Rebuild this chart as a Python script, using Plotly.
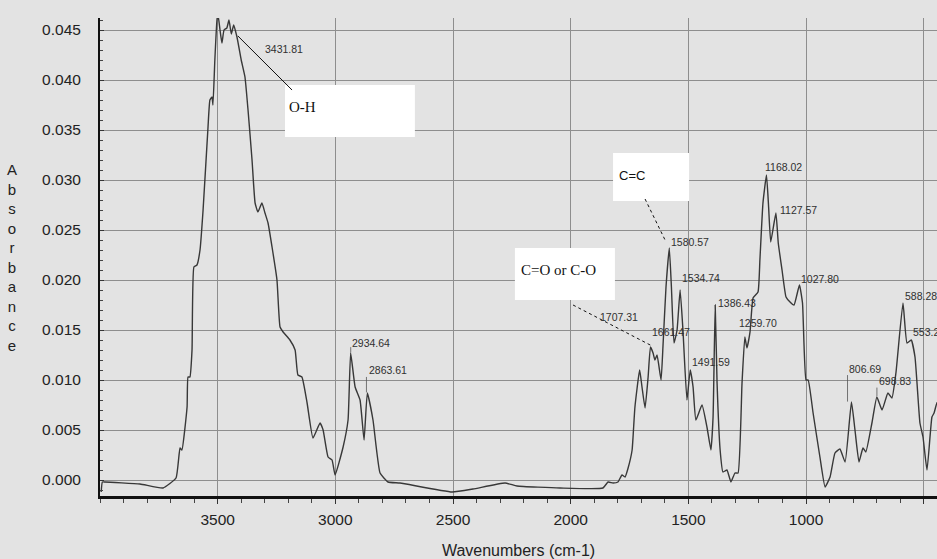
import numpy as np
import plotly.graph_objects as go

# ---------------- data ----------------
wavenumber = [3995, 3990, 3979, 3830, 3732, 3677, 3660, 3652, 3630, 3626, 3618, 3609, 3601, 3588,
              3575, 3562, 3541, 3533, 3524, 3520, 3512, 3503, 3499, 3490, 3482, 3473, 3461, 3452,
              3442, 3432, 3418, 3400, 3384, 3371, 3354, 3341, 3329, 3312, 3299, 3286, 3269, 3248,
              3235, 3222, 3193, 3171, 3159, 3142, 3120, 3095, 3065, 3052, 3031, 3014, 3001, 2967,
              2946, 2935, 2916, 2895, 2878, 2864, 2840, 2810, 2776, 2725, 2504, 2415, 2279, 2228,
              2045, 1863, 1841, 1820, 1799, 1782, 1769, 1756, 1739, 1735, 1727, 1707, 1697, 1684,
              1671, 1661, 1650, 1642, 1633, 1616, 1608, 1595, 1581, 1572, 1561, 1548, 1535, 1523,
              1506, 1492, 1480, 1468, 1442, 1421, 1404, 1395, 1386, 1378, 1365, 1353, 1336, 1319,
              1302, 1289, 1272, 1260, 1251, 1238, 1225, 1204, 1196, 1183, 1168, 1159, 1150, 1128,
              1118, 1102, 1085, 1068, 1051, 1028, 1015, 1000, 991, 970, 941, 919, 898, 877, 856,
              834, 807, 792, 775, 758, 746, 720, 699, 677, 652, 635, 618, 588, 571, 553, 537, 516,
              503, 486, 465, 456, 444, 430]
absorbance = [-0.0012, -0.0002, -0.0002, -0.0004, -0.0008, 0.0002, 0.0032, 0.0030, 0.0073, 0.0103,
              0.0103, 0.0130, 0.0213, 0.0215, 0.0230, 0.0270, 0.0353, 0.0380, 0.0383, 0.0375,
              0.0420, 0.0460, 0.0466, 0.0450, 0.0437, 0.0450, 0.0452, 0.0460, 0.0446, 0.0455,
              0.0443, 0.0420, 0.0403, 0.0370, 0.0320, 0.0277, 0.0268, 0.0277, 0.0267, 0.0257,
              0.0233, 0.0200, 0.0153, 0.0148, 0.0140, 0.0130, 0.0105, 0.0103, 0.0077, 0.0042,
              0.0057, 0.0050, 0.0023, 0.0020, 0.0005, 0.0033, 0.0060, 0.0127, 0.0093, 0.0080,
              0.0040, 0.0087, 0.0060, 0.0007, -0.0002, -0.0003, -0.0012, -0.0009, -0.0003, -0.0006,
              -0.0008, -0.0008, -0.0002, -0.0003, -0.0002, 0.0005, 0.0003, 0.0012, 0.0030, 0.0043,
              0.0073, 0.0110, 0.0093, 0.0072, 0.0103, 0.0133, 0.0127, 0.0120, 0.0125, 0.0100,
              0.0133, 0.0193, 0.0232, 0.0193, 0.0137, 0.0150, 0.0190, 0.0150, 0.0080, 0.0110,
              0.0093, 0.0060, 0.0075, 0.0053, 0.0030, 0.0063, 0.0175, 0.0097, 0.0030, 0.0008,
              0.0010, -0.0002, 0.0007, 0.0007, 0.0097, 0.0143, 0.0132, 0.0148, 0.0182, 0.0188,
              0.0220, 0.0277, 0.0305, 0.0273, 0.0238, 0.0267, 0.0237, 0.0210, 0.0183, 0.0178,
              0.0175, 0.0195, 0.0177, 0.0100, 0.0100, 0.0067, 0.0023, -0.0007, 0.0003, 0.0027,
              0.0031, 0.0018, 0.0078, 0.0050, 0.0018, 0.0032, 0.0028, 0.0057, 0.0083, 0.0070,
              0.0087, 0.0082, 0.0107, 0.0177, 0.0137, 0.0140, 0.0123, 0.0057, 0.0043, 0.0010,
              0.0063, 0.0067, 0.0077, 0.0080]

peak_wavenumbers = [3431.81, 2934.64, 2863.61, 1707.31, 1661.47, 1580.57, 1534.74, 1491.59,
                    1386.43, 1259.70, 1168.02, 1127.57, 1027.80, 806.69, 698.83, 588.28, 553.27]
peak_labels = ["3431.81", "2934.64", "2863.61", "1707.31", "1661.47", "1580.57", "1534.74",
               "1491.59", "1386.43", "1259.70", "1168.02", "1127.57", "1027.80", "806.69",
               "698.83", "588.28", "553.27"]

x_tick_values = [3500, 3000, 2500, 2000, 1500, 1000, 500]
x_tick_labels = ["3500", "3000", "2500", "2000", "1500", "1000", ""]

# ---------------- styling ----------------
BG = "#e3e3e3"
GRID = "#8e8e8e"
LINE = "#383838"

# (xshift px, yshift px, xanchor) for each peak label
label_offsets = [(29, -24, "left"), (-1, 11, "left"), (0, 23, "left"), (0, 54, "right"),
                 (0, 16, "left"), (0, 8, "left"), (0, 13, "left"), (0, 9, "left"),
                 (1, 7, "left"), (-8, 14, "left"), (-3, 8, "left"), (2, 4, "left"),
                 (0, 6, "left"), (-5, 34, "left"), (0, 16, "left"), (0, 8, "left"),
                 (0, 8, "left")]
# leader lines: label index -> (xshift, length px)
leaders = {1: (0, 8), 2: (-1, 18), 13: (-4, 29), 14: (0, 11)}

fig = go.Figure()
fig.add_trace(go.Scatter(x=wavenumber, y=absorbance, mode="lines",
                         line=dict(color=LINE, width=1.4, shape="spline", smoothing=0.4),
                         hoverinfo="skip"))

xs_sorted = np.array(wavenumber[::-1], dtype=float)
ys_sorted = np.array(absorbance[::-1], dtype=float)

annotations = []
for i, (wn, lab) in enumerate(zip(peak_wavenumbers, peak_labels)):
    v = float(np.interp(wn, xs_sorted, ys_sorted))
    dx, dy, xa = label_offsets[i]
    annotations.append(dict(x=wn, y=v, xref="x", yref="y", text=lab, showarrow=False,
                            xanchor=xa, yanchor="middle", xshift=dx, yshift=dy,
                            font=dict(family="Arial, Liberation Sans", size=10.5, color="#303030")))
    if i in leaders:
        lx, ll = leaders[i]
        annotations.append(dict(x=wn, y=v, xref="x", yref="y", text="", showarrow=True,
                                arrowhead=0, arrowwidth=0.8, arrowcolor="#555555",
                                ax=0, ay=-ll, xshift=lx, standoff=1))

# boxed group labels
shapes = []
boxes = [
    (3214, 2662, 0.0395, 0.0343),   # O-H
    (1820, 1497, 0.0327, 0.0279),   # C=C
    (2237, 1812, 0.0232, 0.0180),   # C=O or C-O
]
for x0, x1, y0, y1 in boxes:
    shapes.append(dict(type="rect", xref="x", yref="y", x0=x0, x1=x1, y0=y0, y1=y1,
                       fillcolor="white", line=dict(width=0), layer="above"))
# pointer lines
shapes.append(dict(type="line", xref="x", yref="y", x0=3414, y0=0.0444, x1=3184, y1=0.0390,
                   line=dict(color="#111111", width=1), layer="above"))
shapes.append(dict(type="line", xref="x", yref="y", x0=1684, y0=0.0281, x1=1599, y1=0.0240,
                   line=dict(color="#111111", width=1, dash="dot"), layer="above"))
shapes.append(dict(type="line", xref="x", yref="y", x0=1990, y0=0.0175, x1=1654, y1=0.0134,
                   line=dict(color="#111111", width=1, dash="dot"), layer="above"))

annotations += [
    dict(x=3207, y=0.0373, xref="x", yref="y", text="O-H", showarrow=False, xanchor="left",
         yanchor="middle", font=dict(family="Liberation Serif, Times New Roman", size=15, color="#111111")),
    dict(x=1805, y=0.0305, xref="x", yref="y", text="C=C", showarrow=False, xanchor="left",
         yanchor="middle", font=dict(family="Arial, Liberation Sans", size=13, color="#111111")),
    dict(x=2220, y=0.0210, xref="x", yref="y", text="C=O or C-O", showarrow=False, xanchor="left",
         yanchor="middle", font=dict(family="Liberation Serif, Times New Roman", size=15, color="#111111")),
    dict(x=-0.105, y=0.498, xref="paper", yref="paper",
         text="<br>".join(list("Absorbance")), showarrow=False, xanchor="center", yanchor="middle",
         font=dict(family="Arial, Liberation Sans", size=15, color="#222222")),
]

fig.update_layout(
    width=937, height=559,
    margin=dict(l=100, r=0, t=18, b=63),
    paper_bgcolor=BG, plot_bgcolor=BG,
    showlegend=False,
    shapes=shapes, annotations=annotations,
    xaxis=dict(range=[4000, 443.5], tickmode="array", tickvals=x_tick_values, ticktext=x_tick_labels,
               showgrid=True, gridcolor=GRID, gridwidth=1, zeroline=False,
               showline=True, linecolor="#111111", linewidth=2.5,
               ticks="outside", ticklen=5, tickcolor="#333333", tickwidth=1, ticklabelstandoff=3,
               tickfont=dict(family="Arial, Liberation Sans", size=15.5, color="#222222"),
               minor=dict(tickmode="linear", tick0=0, dtick=100, ticks="outside", ticklen=4,
                          tickcolor="#444444", showgrid=False),
               title=dict(text="Wavenumbers (cm-1)", standoff=18,
                          font=dict(family="Arial, Liberation Sans", size=16, color="#222222"))),
    yaxis=dict(range=[-0.0016, 0.0462], tick0=0, dtick=0.005, tickformat=".3f",
               showgrid=True, gridcolor=GRID, gridwidth=1, zeroline=False,
               showline=True, linecolor="#111111", linewidth=2,
               ticks="inside", ticklen=4, tickcolor="#333333", ticklabelstandoff=14,
               tickfont=dict(family="Arial, Liberation Sans", size=15.5, color="#222222"),
               minor=dict(tickmode="linear", tick0=0, dtick=0.001, ticks="inside", ticklen=3,
                          tickcolor="#444444", showgrid=False)),
)

fig.write_html("out.html", config={"displayModeBar": False},
               post_script="document.body.style.margin='0px';document.body.style.background='#e3e3e3';")
